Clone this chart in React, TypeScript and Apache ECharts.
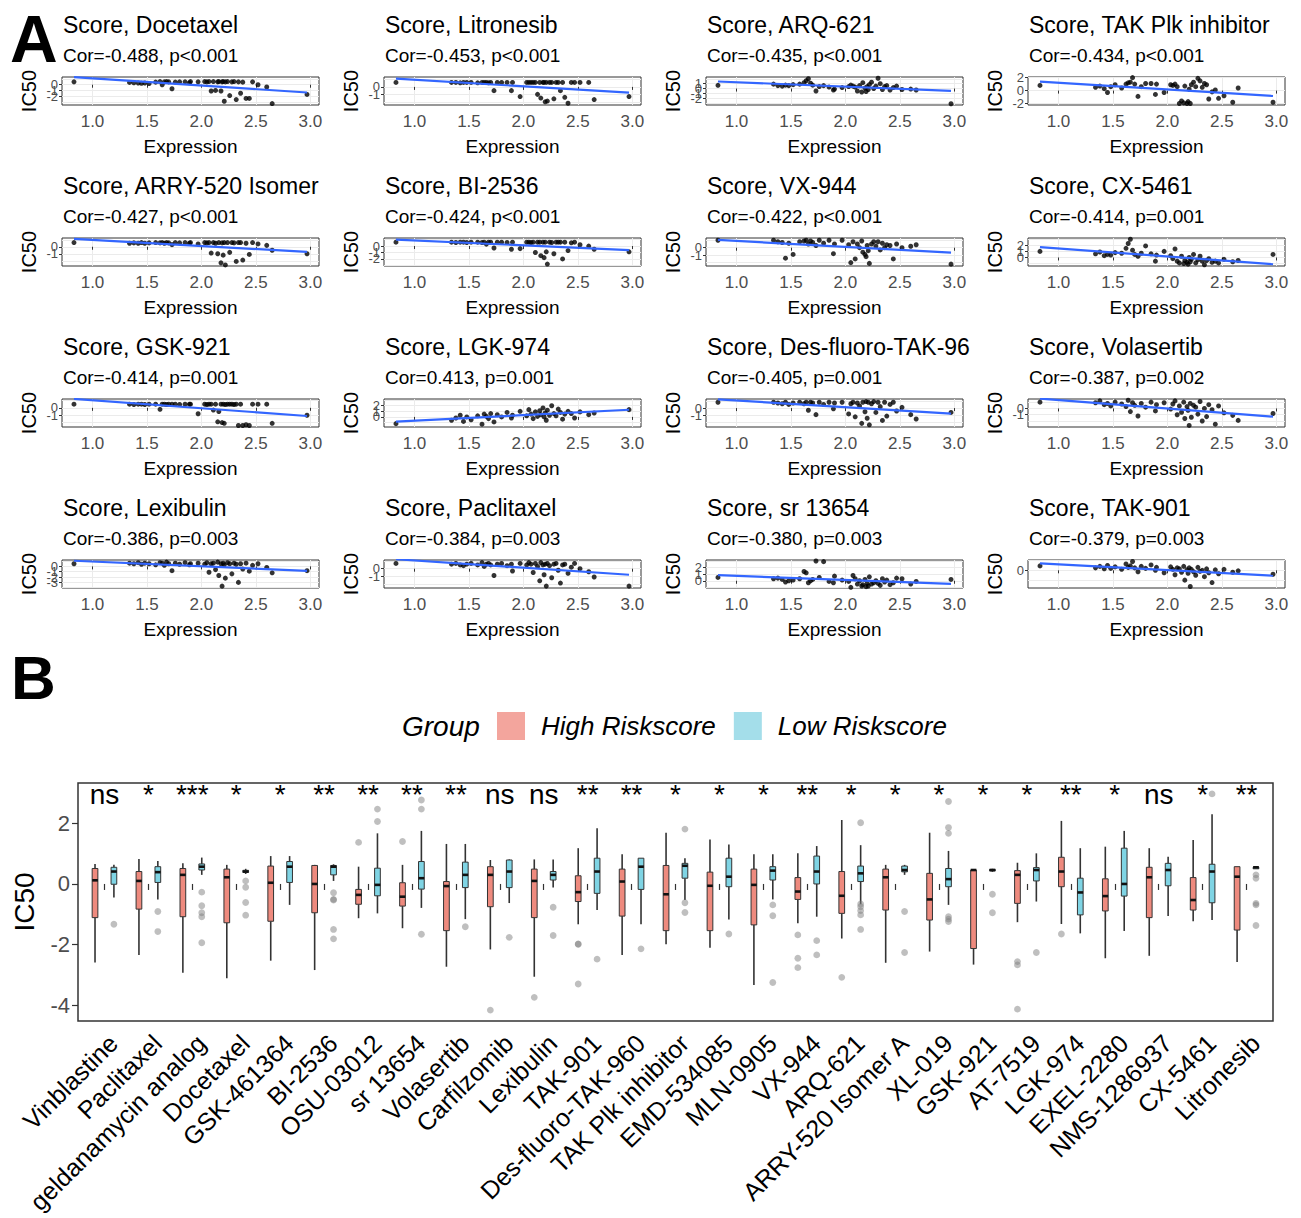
import React, { useEffect, useRef } from "react";
import * as echarts from "echarts";

const FONT = "'Liberation Sans', Arial, Helvetica, sans-serif";

// ---------------- Panel A data ----------------
const EXPRESSION = [
  0.83, 1.34, 1.38, 1.42, 1.45, 1.48, 1.52, 1.58, 1.62, 1.64,
  1.66, 1.68, 1.70, 1.73, 1.76, 1.80, 1.85, 1.89, 1.90, 1.97,
  2.03, 2.05, 2.07, 2.09, 2.11, 2.13, 2.15, 2.16, 2.18, 2.19,
  2.20, 2.21, 2.22, 2.24, 2.26, 2.28, 2.30, 2.32, 2.34, 2.36,
  2.38, 2.41, 2.44, 2.47, 2.52, 2.60, 2.65, 2.97,
];

const IC50_DOCETAXEL = [
  0.50, 0.40, 0.35, 0.30, 0.25, 0.30, 0.20, 0.45, 0.55, 0.00,
  0.50, 0.55, 0.50, -0.70, 0.45, 0.50, 0.50, 0.35, 0.55, 0.50,
  0.55, 0.50, 0.55, -1.10, 0.55, -1.00, 0.50, 0.55, -1.10, 0.50,
  0.55, -2.90, 0.50, 0.55, -1.90, 0.50, 0.55, -2.60, 0.50, -1.50,
  0.45, -2.40, -2.40, 0.50, 0.00, -0.40, -3.30, -1.70,
];
const IC50_LITRONESIB = [
  0.60, 0.60, 0.60, 0.55, 0.60, 0.60, 0.60, 0.55, 0.60, 0.60,
  0.60, 0.55, 0.60, -0.50, 0.60, 0.60, 0.60, -0.50, 0.60, -1.30,
  0.60, 0.60, 0.60, 0.60, 0.60, -1.00, 0.60, -1.50, 0.60, 0.60,
  -2.00, 0.60, -1.90, 0.60, 0.60, -1.60, 0.60, 0.60, -0.50, 0.60,
  -1.40, -2.20, 0.60, 0.60, 0.60, 0.60, -1.70, -1.30,
];
const IC50_ARQ621 = [
  0.66, 0.90, 0.60, 0.50, 0.70, 0.60, 0.80, 0.90, 1.20, 1.60,
  2.00, 1.10, 0.70, -0.50, 0.40, 0.60, 0.30, -0.30, -0.10, 0.20,
  0.40, 0.70, 0.50, 0.30, -0.50, 0.60, -0.70, 1.20, 0.10, -0.60,
  0.40, -0.20, 0.80, 1.30, 0.00, 0.50, 2.10, 1.00, -0.20, 0.40,
  0.60, -0.30, 0.20, 0.50, -0.20, -0.10, -0.30, -3.10,
];
const IC50_TAKPLK = [
  0.80, 0.50, 0.70, 0.30, -0.30, 0.60, 0.90, 0.40, 1.00, 1.20,
  1.30, 2.00, 1.00, -0.90, 0.60, 1.10, 1.10, -0.60, 1.00, -0.30,
  0.90, 0.80, 1.00, 0.60, -2.00, -1.60, -1.90, 0.70, -2.00, -1.70,
  0.20, -2.00, 0.90, 1.30, 0.60, 1.90, 1.50, 0.50, 1.10, 0.90,
  -1.30, -0.20, 0.10, -1.20, -0.80, -1.80, 0.40, -1.80,
];
const IC50_ARRY520 = [
  0.60, 0.50, 0.55, 0.50, 0.60, 0.50, 0.55, 0.60, 0.55, 0.60,
  0.50, 0.60, 0.55, 0.30, 0.60, 0.55, 0.60, 0.50, 0.60, 0.40,
  0.60, 0.55, 0.60, -0.90, 0.60, 0.50, -1.00, 0.60, -2.30, 0.55,
  -1.20, 0.60, -2.60, 0.60, -0.80, 0.60, 0.55, -2.10, 0.60, 0.60,
  -1.90, 0.50, -1.10, 0.60, 0.40, 0.20, -0.50, -1.00,
];
const IC50_BI2536 = [
  0.60, 0.60, 0.55, 0.60, 0.60, 0.55, 0.60, 0.60, 0.55, 0.60,
  0.30, 0.60, 0.60, -0.30, 0.60, 0.60, 0.55, -0.50, 0.60, -0.40,
  0.60, 0.60, 0.55, 0.60, -1.00, 0.60, 0.60, -1.50, 0.60, -1.80,
  0.60, -0.90, -2.80, 0.60, 0.55, -1.20, 0.60, 0.60, 0.60, -2.00,
  0.60, -0.70, 0.50, 0.60, 0.20, 0.00, -0.50, -0.90,
];
const IC50_VX944 = [
  1.00, 1.00, 0.80, 0.70, -1.40, 0.60, -0.90, 0.80, 0.90, 1.00,
  0.50, 0.90, 0.70, 0.30, 1.00, 0.60, 1.00, -0.80, 0.50, 1.00,
  0.40, -2.00, 0.80, -1.50, 0.50, 0.00, 0.90, -0.60, -0.90, -1.20,
  0.30, -0.40, -2.10, 0.50, 0.80, 0.20, 0.80, -0.30, 0.60, 0.00,
  0.40, 0.30, -1.50, 0.50, 0.00, 0.20, 0.40, -2.20,
];
const IC50_CX5461 = [
  1.00, 0.60, 0.90, 0.30, 0.50, 0.40, 0.80, 0.70, 1.50, 2.30,
  3.00, 1.20, 0.50, 0.20, 0.70, 1.90, 0.60, -0.60, 0.40, 1.00,
  0.30, -0.20, 1.40, -0.60, -0.90, 0.20, -1.00, -0.50, -0.80, -1.10,
  0.00, -0.70, -0.30, 0.50, -0.90, -0.40, 0.20, -0.60, -1.20, -0.50,
  -0.20, -0.80, -0.60, -0.90, -0.30, -0.70, -0.50, 0.50,
];
const IC50_GSK921 = [
  0.50, 0.50, 0.45, 0.50, 0.50, 0.45, 0.50, 0.50, -0.20, 0.50,
  0.50, 0.45, 0.50, 0.50, 0.50, 0.45, 0.50, 0.50, 0.50, -0.80,
  0.50, 0.45, 0.50, 0.50, -0.30, 0.50, -1.90, -0.50, 0.50, -2.00,
  0.50, -2.10, 0.45, 0.50, 0.50, 0.50, 0.45, 0.50, -2.40, 0.50,
  -2.40, -2.30, -2.40, 0.50, 0.50, 0.50, -2.10, -1.00,
];
const IC50_LGK974 = [
  -1.20, -0.60, -0.20, 0.30, -0.80, 0.00, -0.50, 0.20, -1.30, 0.50,
  0.10, -0.30, 0.60, -0.90, 0.40, 0.00, 0.80, -0.20, 0.30, 1.00,
  0.20, 1.30, 0.50, -0.30, 0.90, 0.10, 1.10, 0.40, 1.60, 0.00,
  0.70, -0.60, 1.20, 0.30, 2.00, 0.60, 0.20, 1.40, 0.80, -0.40,
  0.50, 1.00, 0.60, -0.20, 0.90, 0.40, 0.70, 1.30,
];
const IC50_DESFLUORO = [
  0.80, 0.80, 0.70, 0.60, 0.80, 0.50, 0.70, 0.80, 0.60, 0.80,
  -0.30, 0.80, 0.70, -0.90, 0.80, 0.50, 0.80, -0.10, 0.70, 0.80,
  -0.80, 0.60, 0.80, -1.20, 0.70, 0.30, -2.10, 0.80, -0.50, 0.90,
  -1.40, 0.80, -2.30, 0.60, 0.90, -0.60, 0.80, 0.20, -1.70, 0.80,
  -1.10, 0.50, 0.80, -0.40, 0.10, -0.90, -1.50, -0.60,
];
const IC50_VOLASERTIB = [
  1.00, 0.90, 1.20, 0.60, 0.80, 0.40, 1.00, 0.70, 0.30, 1.30,
  -0.50, 0.90, 0.50, -1.20, 0.80, 0.20, 1.00, -0.40, 0.60, 0.90,
  -0.10, 0.70, 1.20, -1.00, 0.40, -0.60, 1.00, -1.60, 0.30, -0.30,
  -2.70, 0.80, -1.40, 0.50, 0.20, -0.90, 1.10, -2.00, 0.00, -1.30,
  0.60, -0.20, -2.50, 0.40, -0.70, -1.10, -1.90, -0.80,
];
const IC50_LEXIBULIN = [
  0.50, 0.60, 0.50, 0.70, 0.40, 0.60, 0.50, 0.30, 0.70, 0.60,
  0.20, 0.80, 0.50, -0.80, 0.60, 0.40, 0.70, 0.30, 0.50, 0.60,
  0.40, 0.70, -1.10, 0.50, 0.60, -0.60, 0.80, -1.70, 0.50, -3.70,
  0.60, 0.30, -2.20, 0.70, 0.50, -1.40, 0.60, 0.40, -3.00, 0.50,
  -0.50, 0.60, -0.90, 0.20, 0.50, -0.20, -1.20, -0.80,
];
const IC50_PACLITAXEL = [
  0.70, 0.60, 0.70, 0.50, 0.40, 0.60, 0.70, 0.50, 0.80, 0.30,
  0.60, 0.70, 0.50, -0.90, 0.60, 0.70, 0.40, 0.60, -0.30, 0.70,
  0.50, 0.80, 0.60, -0.50, 0.70, 0.30, -1.60, 0.80, 0.50, -0.80,
  0.60, -2.30, 0.70, 0.40, -1.20, 0.60, 0.70, -0.20, -1.90, 0.50,
  0.60, -0.60, 0.20, 0.70, 0.00, -0.40, -1.10, -2.30,
];
const IC50_SR13654 = [
  0.50, 0.30, 0.40, 0.20, -0.20, 0.00, 0.10, 0.30, 1.40, 1.20,
  -0.30, 0.00, 0.20, 3.00, 0.50, 2.90, -0.10, -0.30, 0.70, 0.10,
  -0.10, -1.00, 0.80, 0.30, -0.50, 0.00, -0.80, -0.60, 0.20, -0.90,
  -0.40, -0.80, 0.60, -0.50, -0.30, 0.00, -0.40, -0.70, 0.30, -0.20,
  0.10, -0.60, -0.30, 0.40, 0.30, -0.50, -0.10, 0.20,
];
const IC50_TAK901 = [
  0.90, 0.50, 0.80, 0.30, 1.00, 0.40, 0.70, 0.20, 1.30, 0.60,
  0.90, 1.80, 0.50, -0.30, 0.80, 0.40, 1.10, 0.00, 0.60, -0.50,
  0.70, 0.20, -0.90, 0.50, 0.30, -0.40, 0.80, -2.00, 0.10, -0.60,
  0.50, -3.30, 0.20, -0.30, -1.00, 0.60, -0.20, 0.00, -1.30, 0.30,
  -0.50, -2.50, 0.10, -0.70, 0.20, -0.40, -0.10, -0.80,
];

// panel titles as they appear (long names are cut at the panel edge)
const PANEL_DRUGS = [
  "Docetaxel", "Litronesib", "ARQ-621", "TAK Plk inhibitor",
  "ARRY-520 Isomer", "BI-2536", "VX-944", "CX-5461",
  "GSK-921", "LGK-974", "Des-fluoro-TAK-96", "Volasertib",
  "Lexibulin", "Paclitaxel", "sr 13654", "TAK-901",
];
const PANEL_COR = [
  "Cor=-0.488, p<0.001", "Cor=-0.453, p<0.001", "Cor=-0.435, p<0.001", "Cor=-0.434, p<0.001",
  "Cor=-0.427, p<0.001", "Cor=-0.424, p<0.001", "Cor=-0.422, p<0.001", "Cor=-0.414, p=0.001",
  "Cor=-0.414, p=0.001", "Cor=0.413, p=0.001", "Cor=-0.405, p=0.001", "Cor=-0.387, p=0.002",
  "Cor=-0.386, p=0.003", "Cor=-0.384, p=0.003", "Cor=-0.380, p=0.003", "Cor=-0.379, p=0.003",
];
const PANEL_IC50 = [
  IC50_DOCETAXEL, IC50_LITRONESIB, IC50_ARQ621, IC50_TAKPLK,
  IC50_ARRY520, IC50_BI2536, IC50_VX944, IC50_CX5461,
  IC50_GSK921, IC50_LGK974, IC50_DESFLUORO, IC50_VOLASERTIB,
  IC50_LEXIBULIN, IC50_PACLITAXEL, IC50_SR13654, IC50_TAK901,
];
const PANEL_YMIN = [-3.55, -2.43, -3.36, -2.23, -2.75, -3.1, -2.45, -1.4, -2.6, -1.8, -2.6, -2.95, -4.05, -2.55, -1.1, -3.6];
const PANEL_YMAX = [1.35, 1.33, 2.36, 2.1, 1.25, 1.25, 1.3, 3.2, 1.2, 3.2, 1.25, 1.5, 1.2, 1.15, 3.15, 2.1];
const PANEL_YTICKS = [
  [-3, -2, -1, 0, 1], [-2, -1, 0, 1], [-3, -2, -1, 0, 1, 2], [-2, 0, 2],
  [-2, -1, 0, 1], [-3, -2, -1, 0, 1], [-2, -1, 0, 1], [-1, 0, 1, 2, 3],
  [-2, -1, 0, 1], [-1, 0, 1, 2, 3], [-2, -1, 0, 1], [-2, -1, 0, 1],
  [-4, -3, -2, -1, 0, 1], [-2, -1, 0, 1], [-1, 0, 1, 2, 3], [-2, 0, 2],
];
const X_TICKS = [1.0, 1.5, 2.0, 2.5, 3.0];
const X_MIN = 0.72;
const X_MAX = 3.08;

// ---------------- Panel B data ----------------
const BOX_DRUGS = [
  "Vinblastine", "Paclitaxel", "geldanamycin analog", "Docetaxel", "GSK-461364", "BI-2536",
  "OSU-03012", "sr 13654", "Volasertib", "Carfilzomib", "Lexibulin", "TAK-901",
  "Des-fluoro-TAK-960", "TAK Plk inhibitor", "EMD-534085", "MLN-0905", "VX-944", "ARQ-621",
  "ARRY-520 Isomer A", "XL-019", "GSK-921", "AT-7519", "LGK-974", "EXEL-2280",
  "NMS-1286937", "CX-5461", "Litronesib",
];
const SIGNIF = [
  "ns", "*", "***", "*", "*", "**", "**", "**", "**", "ns", "ns", "**", "**", "*",
  "*", "*", "**", "*", "*", "*", "*", "*", "**", "*", "ns", "*", "**",
];
// [lower whisker, Q1, median, Q3, upper whisker]
const HIGH_STATS = [
  [-2.59, -1.11, 0.12, 0.51, 0.66], [-2.34, -0.83, 0.10, 0.41, 0.82], [-2.93, -1.08, 0.30, 0.51, 0.68],
  [-3.11, -1.28, 0.22, 0.49, 0.63], [-2.53, -1.23, 0.04, 0.59, 0.92], [-2.84, -0.95, 0.00, 0.61, 0.63],
  [-1.13, -0.67, -0.36, -0.18, 0.57], [-1.46, -0.73, -0.42, 0.04, 0.63], [-2.73, -1.54, -0.07, 0.08, 1.32],
  [-2.16, -0.75, 0.30, 0.57, 0.79], [-3.06, -1.11, 0.10, 0.49, 0.81], [-1.33, -0.58, -0.27, 0.27, 1.18],
  [-2.34, -1.06, 0.08, 0.49, 0.98], [-1.99, -1.54, -0.34, 0.61, 1.69], [-2.10, -1.54, -0.06, 0.39, 1.47],
  [-3.33, -1.35, -0.03, 0.49, 0.98], [-1.30, -0.51, -0.25, 0.21, 1.01], [-1.80, -0.97, -0.39, 0.41, 2.11],
  [-2.60, -0.86, 0.22, 0.49, 0.63], [-2.23, -1.19, -0.51, 0.35, 1.69], [-2.66, -2.13, 0.46, 0.46, 0.46],
  [-1.26, -0.64, 0.30, 0.44, 0.70], [-1.32, -0.09, 0.41, 0.88, 2.08], [-2.45, -0.89, -0.40, 0.17, 1.23],
  [-2.37, -1.11, 0.22, 0.55, 1.18], [-1.23, -0.86, -0.53, 0.21, 1.45], [-2.57, -1.52, 0.24, 0.57, 0.57],
];
const LOW_STATS = [
  [-0.45, -0.01, 0.41, 0.55, 0.63], [-0.51, 0.05, 0.39, 0.57, 0.76], [0.30, 0.46, 0.57, 0.66, 0.87],
  [0.33, 0.38, 0.41, 0.45, 0.50], [-0.69, 0.05, 0.57, 0.74, 0.92], [0.10, 0.30, 0.57, 0.61, 0.65],
  [-0.97, -0.39, -0.03, 0.52, 1.67], [-0.79, -0.17, 0.19, 0.74, 1.75], [-1.16, -0.12, 0.30, 0.72, 1.32],
  [-0.63, -0.12, 0.41, 0.79, 0.81], [-0.12, 0.13, 0.30, 0.41, 0.81], [-0.86, -0.31, 0.41, 0.85, 1.84],
  [-1.33, -0.18, 0.57, 0.85, 0.85], [-0.53, 0.19, 0.60, 0.68, 0.85], [-1.17, -0.09, 0.24, 0.85, 1.30],
  [-0.51, 0.13, 0.44, 0.57, 0.98], [-1.08, 0.00, 0.41, 0.92, 1.25], [-0.67, 0.08, 0.35, 0.59, 1.28],
  [0.30, 0.40, 0.46, 0.59, 0.63], [-0.69, -0.09, 0.16, 0.51, 1.09], [0.40, 0.43, 0.46, 0.48, 0.50],
  [-0.58, 0.10, 0.46, 0.54, 1.01], [-1.63, -1.02, -0.28, 0.19, 1.18], [-1.55, -0.40, 0.00, 1.18, 1.75],
  [-1.06, -0.06, 0.46, 0.68, 0.90], [-1.19, -0.62, 0.41, 0.65, 2.30], [0.55, 0.55, 0.55, 0.55, 0.55],
];
const HIGH_OUTLIERS = [
  [], [], [], [], [], [], [1.37], [1.40], [], [-4.16], [-3.74], [-1.98, -1.99, -3.30],
  [], [], [], [], [-1.68, -2.45, -2.76], [-3.08], [], [], [], [-2.56, -2.67, -4.13], [-1.65], [],
  [], [], [],
];
const LOW_OUTLIERS = [
  [-1.33], [-0.91, -1.57], [-0.27, -0.72, -0.95, -1.08, -1.94], [0.10, -0.11, -0.61, -1.03], [],
  [-0.29, -0.51, -0.53, -1.50, -1.81], [2.47, 2.06], [2.77, 2.47, -1.66], [-1.41], [-1.76],
  [-0.77, -1.70], [-2.48], [-2.14], [1.81, -0.62, -0.94], [-1.65], [-0.69, -1.05, -3.25],
  [-1.87, -2.34], [2.02, -0.66, -0.75, -0.88, -1.02, -1.50], [-0.91, -2.26],
  [2.72, 1.86, 1.67, -1.08, -1.16, -1.24], [-0.34, -0.95], [-2.26], [], [], [], [2.97],
  [0.30, 0.19, -0.64, -0.69, -1.37],
];
const B_YMIN = -4.52;
const B_YMAX = 3.33;
const B_YTICKS = [-4, -2, 0, 2];
const SIG_Y = 2.95;

// ---------------- layout (pixels) ----------------
const COL_LEFT = [62, 384, 706, 1028];
const PANEL_W = 257;
const PANEL_H = 28;
const ROW_TOP0 = 77;
const ROW_PITCH = 161;

const HIGH_FILL = "#EE8A7E";
const LOW_FILL = "#7FD4E4";

function linearFit(xs: number[], ys: number[]) {
  const n = xs.length;
  let mx = 0, my = 0;
  for (let i = 0; i < n; i++) { mx += xs[i]; my += ys[i]; }
  mx /= n; my /= n;
  let sxy = 0, sxx = 0;
  for (let i = 0; i < n; i++) { sxy += (xs[i] - mx) * (ys[i] - my); sxx += (xs[i] - mx) ** 2; }
  const b = sxy / sxx;
  return { a: my - b * mx, b };
}

const txt = (x: number, y: number, text: string, fontSize: number, extra: any = {}, align = "left") => ({
  type: "text", x, y, ...extra,
  style: {
    text, fontSize, fontFamily: FONT, fill: "#000",
    align, verticalAlign: "middle", textAlign: align, textVerticalAlign: "middle",
    ...(extra.style || {}),
  },
});

function buildOption(): any {
  const grids: any[] = [];
  const xAxes: any[] = [];
  const yAxes: any[] = [];
  const series: any[] = [];
  const graphics: any[] = [];

  const xMinData = Math.min(...EXPRESSION);
  const xMaxData = Math.max(...EXPRESSION);

  PANEL_DRUGS.forEach((drug, k) => {
    const r = Math.floor(k / 4);
    const c = k % 4;
    const left = COL_LEFT[c];
    const top = ROW_TOP0 + r * ROW_PITCH;
    grids.push({
      left, top, width: PANEL_W, height: PANEL_H, show: true,
      backgroundColor: "#FFFFFF", borderColor: "#333333", borderWidth: 1,
    });
    xAxes.push({
      type: "value", gridIndex: k, min: X_MIN, max: X_MAX,
      axisLine: { show: false },
      axisTick: { show: true, length: 3, lineStyle: { color: "#333333" }, customValues: X_TICKS },
      axisLabel: {
        customValues: X_TICKS, formatter: (v: number) => v.toFixed(1),
        fontSize: 17, color: "#4D4D4D", margin: 8, fontFamily: FONT,
      },
      splitLine: { show: true, lineStyle: { color: "#EBEBEB", width: 1 } },
    });
    yAxes.push({
      type: "value", gridIndex: k, min: PANEL_YMIN[k], max: PANEL_YMAX[k],
      axisLine: { show: false },
      axisTick: { show: true, length: 3, lineStyle: { color: "#333333" }, customValues: PANEL_YTICKS[k] },
      axisLabel: {
        customValues: PANEL_YTICKS[k], formatter: (v: number) => String(v),
        fontSize: 13, color: "#4D4D4D", margin: 4, fontFamily: FONT, hideOverlap: false,
      },
      splitLine: { show: true, lineStyle: { color: "#EBEBEB", width: 1 } },
    });
    const ys = PANEL_IC50[k];
    series.push({
      type: "scatter", xAxisIndex: k, yAxisIndex: k, symbolSize: 5,
      itemStyle: { color: "#000000" }, z: 3,
      data: EXPRESSION.map((x, i) => [x, ys[i]]),
    });
    const fit = linearFit(EXPRESSION, ys);
    series.push({
      type: "line", xAxisIndex: k, yAxisIndex: k, symbol: "none", z: 4,
      lineStyle: { color: "#3366FF", width: 2.2 },
      data: [[xMinData, fit.a + fit.b * xMinData], [xMaxData, fit.a + fit.b * xMaxData]],
    });

    graphics.push(txt(left + 1, 25 + r * ROW_PITCH, "Score, " + drug, 23));
    graphics.push(txt(left + 1, 55 + r * ROW_PITCH, PANEL_COR[k], 19));
    graphics.push(txt(left - 33, top + PANEL_H / 2, "IC50", 20, { rotation: Math.PI / 2 }, "center"));
    graphics.push(txt(left + PANEL_W / 2, 146 + r * ROW_PITCH, "Expression", 19, {}, "center"));
  });

  // ---------------- Panel B ----------------
  const gb = PANEL_DRUGS.length;
  grids.push({ left: 82.5, width: 1186, top: 783, height: 238, show: false });
  xAxes.push({
    type: "category", gridIndex: gb, data: BOX_DRUGS, boundaryGap: true,
    axisLine: { show: false },
    axisTick: { show: true, length: 6, alignWithLabel: true, interval: 0, lineStyle: { color: "#333333", width: 1.2 } },
    axisLabel: {
      rotate: 45, interval: 0, fontSize: 25, color: "#000000", margin: 9, fontFamily: FONT,
      hideOverlap: false, align: "right", verticalAlign: "top",
    },
    splitLine: { show: false },
  });
  yAxes.push({
    type: "value", gridIndex: gb, min: B_YMIN, max: B_YMAX, offset: 4.5,
    axisLine: { show: false },
    axisTick: { show: true, length: 6, lineStyle: { color: "#333333", width: 1.2 }, customValues: B_YTICKS },
    axisLabel: { customValues: B_YTICKS, fontSize: 22, color: "#4D4D4D", margin: 8, fontFamily: FONT },
    splitLine: { show: false },
  });

  const boxRender = (sign: number, fill: string) => (params: any, api: any) => {
    const i = api.value(0);
    const lo = api.value(1), q1 = api.value(2), md = api.value(3), q3 = api.value(4), hi = api.value(5);
    const cx = api.coord([i, 0])[0];
    const bw = api.size([1, 0])[0];
    const x = cx + sign * bw * 0.215;
    const w = bw * 0.13;
    const Y = (v: number) => api.coord([i, v])[1];
    const yq3 = Y(q3), yq1 = Y(q1);
    return {
      type: "group",
      children: [
        { type: "line", shape: { x1: x, y1: Y(hi), x2: x, y2: yq3 }, style: { stroke: "#333333", lineWidth: 1.6 } },
        { type: "line", shape: { x1: x, y1: yq1, x2: x, y2: Y(lo) }, style: { stroke: "#333333", lineWidth: 1.6 } },
        {
          type: "rect", shape: { x: x - w / 2, y: yq3, width: w, height: Math.max(yq1 - yq3, 1.5) },
          style: { fill, stroke: "#333333", lineWidth: 1 },
        },
        { type: "line", shape: { x1: x - w / 2, y1: Y(md), x2: x + w / 2, y2: Y(md) }, style: { stroke: "#111111", lineWidth: 2.6 } },
      ],
    };
  };
  const outlierRender = (sign: number) => (params: any, api: any) => {
    const i = api.value(0);
    const p = api.coord([i, api.value(1)]);
    const bw = api.size([1, 0])[0];
    return {
      type: "circle",
      shape: { cx: p[0] + sign * bw * 0.215, cy: p[1], r: 3.4 },
      style: { fill: "rgba(128,128,128,0.5)" },
    };
  };

  series.push({
    type: "custom", name: "High Riskscore", xAxisIndex: gb, yAxisIndex: gb,
    itemStyle: { color: HIGH_FILL }, renderItem: boxRender(-1, HIGH_FILL),
    encode: { x: 0, y: [1, 2, 3, 4, 5] },
    data: HIGH_STATS.map((s, i) => [i, ...s]), z: 3,
  });
  series.push({
    type: "custom", name: "Low Riskscore", xAxisIndex: gb, yAxisIndex: gb,
    itemStyle: { color: LOW_FILL }, renderItem: boxRender(1, LOW_FILL),
    encode: { x: 0, y: [1, 2, 3, 4, 5] },
    data: LOW_STATS.map((s, i) => [i, ...s]), z: 3,
  });
  const highOut: number[][] = [];
  HIGH_OUTLIERS.forEach((arr, i) => arr.forEach((v) => highOut.push([i, v])));
  const lowOut: number[][] = [];
  LOW_OUTLIERS.forEach((arr, i) => arr.forEach((v) => lowOut.push([i, v])));
  series.push({
    type: "custom", name: "high-outliers", xAxisIndex: gb, yAxisIndex: gb,
    renderItem: outlierRender(-1), encode: { x: 0, y: 1 }, data: highOut, z: 4,
  });
  series.push({
    type: "custom", name: "low-outliers", xAxisIndex: gb, yAxisIndex: gb,
    renderItem: outlierRender(1), encode: { x: 0, y: 1 }, data: lowOut, z: 4,
  });
  series.push({
    type: "custom", name: "signif", xAxisIndex: gb, yAxisIndex: gb,
    encode: { x: 0, y: 1 },
    data: SIGNIF.map((s, i) => [i, SIG_Y]),
    renderItem: (params: any, api: any) => {
      const p = api.coord([api.value(0), api.value(1)]);
      return {
        type: "text", x: p[0], y: p[1],
        style: {
          text: SIGNIF[params.dataIndex], fontSize: 28, fontFamily: FONT, fill: "#000",
          align: "center", verticalAlign: "middle", textAlign: "center", textVerticalAlign: "middle",
        },
      };
    },
    z: 5,
  });

  graphics.push({
    type: "rect", shape: { x: 78, y: 783, width: 1195, height: 238 },
    style: { fill: "none", stroke: "#333333", lineWidth: 1.5 }, z: 10,
  });
  graphics.push(txt(24, 902, "IC50", 28, { rotation: Math.PI / 2 }, "center"));
  graphics.push(txt(10, 39, "A", 66, { style: { fontWeight: "bold" } }));
  graphics.push(txt(11, 677, "B", 62, { style: { fontWeight: "bold" } }));
  graphics.push(txt(402, 726, "Group", 28, { style: { fontStyle: "italic" } }));

  return {
    animation: false,
    backgroundColor: "#FFFFFF",
    grid: grids,
    xAxis: xAxes,
    yAxis: yAxes,
    series,
    graphic: { elements: graphics },
    legend: {
      left: 492, top: 707, itemWidth: 28, itemHeight: 28, itemGap: 18, icon: "rect",
      selectedMode: false,
      data: [
        { name: "High Riskscore", itemStyle: { color: "#F3A59D", borderWidth: 0 } },
        { name: "Low Riskscore", itemStyle: { color: "#A4DEEA", borderWidth: 0 } },
      ],
      textStyle: { fontSize: 26, fontStyle: "italic", color: "#000", fontFamily: FONT, padding: [0, 0, 0, 11] },
    },
  };
}

export default function App() {
  const ref = useRef<HTMLDivElement>(null);
  useEffect(() => {
    document.body.style.margin = "0";
    const chart = echarts.init(ref.current as HTMLDivElement, null, { renderer: "svg" });
    chart.setOption(buildOption());
    return () => chart.dispose();
  }, []);
  return <div ref={ref} style={{ width: 1301, height: 1218, background: "#fff" }} />;
}
